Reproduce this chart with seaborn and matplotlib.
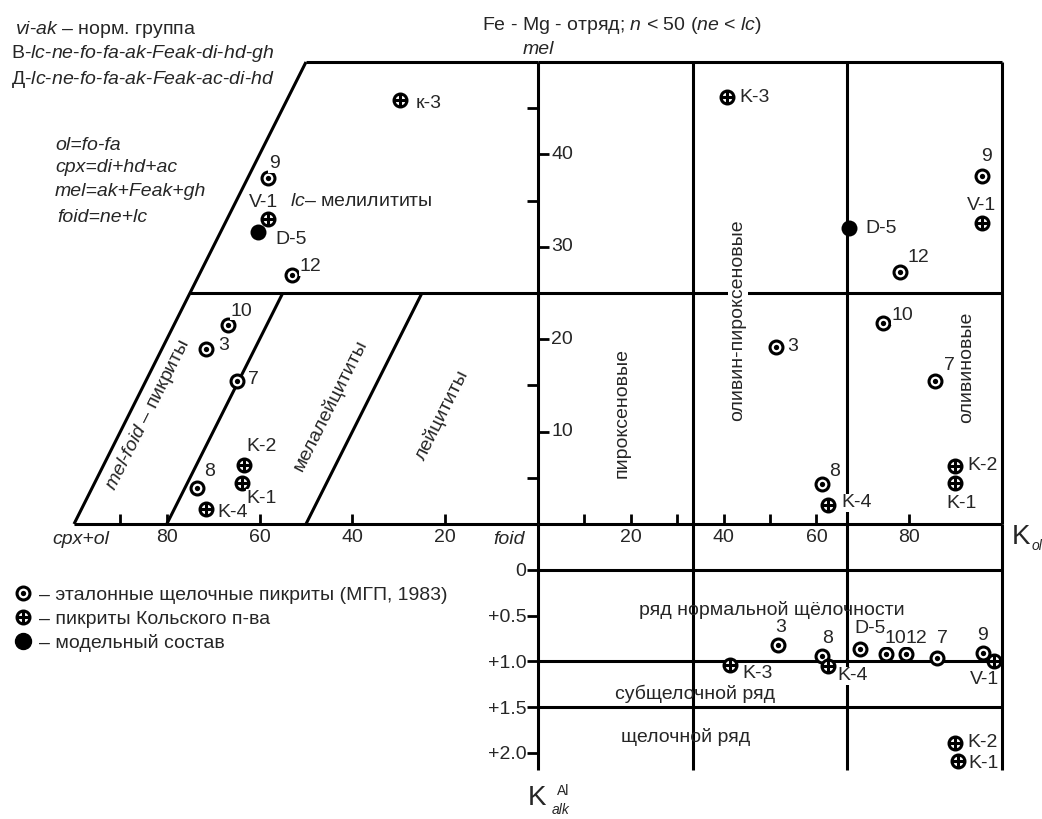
import matplotlib
matplotlib.use("Agg")
import matplotlib.pyplot as plt
import seaborn as sns
import pandas as pd
from matplotlib.lines import Line2D

# ── 1. Data ───────────────────────────────────
# right field: K_ol vs mel
r_names = ['K-3', '9', 'V-1', 'D-5', '12', '10', '3', '7', '8', 'K-4', 'K-2', 'K-1']
r_kind = ['kola', 'ref', 'kola', 'model', 'ref', 'ref', 'ref', 'ref', 'ref',
          'kola', 'kola', 'kola']
r_kol = [40.7, 95.6, 95.6, 67.0, 78.1, 74.3, 51.2, 85.5, 61.1, 62.6, 89.8, 89.8]
r_mel = [46.2, 37.7, 32.6, 32.0, 27.3, 21.8, 19.2, 15.5, 4.3, 2.1, 6.3, 4.4]

# left field: foid scale (sheared) vs mel
l_names = ['к-3', '9', 'V-1', 'D-5', '12', '10', '3', '7', '8', 'K-2', 'K-1', 'K-4']
l_kind = ['kola', 'ref', 'kola', 'model', 'ref', 'ref', 'ref', 'ref', 'ref',
          'kola', 'kola', 'kola']
l_foid = [29.7, 58.1, 58.1, 60.4, 53.1, 66.9, 71.6, 64.9, 73.5, 63.4, 63.9, 71.6]
l_mel = [45.9, 37.4, 33.0, 31.6, 26.9, 21.5, 18.9, 15.5, 3.9, 6.4, 4.4, 1.6]

# lower field: K_ol vs K_alk^Al
b_names = ['3', 'K-3', '8', 'K-4', 'D-5', '10', '12', '7', '9', 'V-1', 'K-2', 'K-1']
b_kind = ['ref', 'kola', 'ref', 'kola', 'ref', 'ref', 'ref', 'ref', 'ref',
          'kola', 'kola', 'kola']
b_kol = [51.7, 41.3, 61.1, 62.6, 69.3, 75.1, 79.4, 85.9, 95.8, 98.2, 89.8, 90.6]
b_kalk = [0.82, 1.04, 0.94, 1.05, 0.86, 0.92, 0.92, 0.96, 0.91, 1.00, 1.89, 2.09]

# field boundaries
kol_frame = [0, 100 / 3, 200 / 3, 100]
mel_frame = [0, 25, 50]
kalk_bounds = [0, 1.0, 1.5]
left_fields = [100, 80, 50]   # foid at mel = 0, lines go 1:1 towards foid

# ticks
kol_major = [20, 40, 60, 80]
kol_minor = [10, 30, 50]
foid_major = [20, 40, 60, 80]
foid_minor = [90]
mel_major = [10, 20, 30, 40]
mel_minor = [5, 15, 35, 45]
kalk_ticks = [0, 0.5, 1.0, 1.5, 2.0]
kalk_labels = ['0', '+0.5', '+1.0', '+1.5', '+2.0']

legend_labels = ['– эталонные щелочные пикриты (МГП, 1983)',
                 '– пикриты Кольского п-ва',
                 '– модельный состав']

# label offsets in px (dx right, dy down, ha)
r_off = [(13, 0, 'left'), (5, -19, 'center'), (0, -17, 'center'), (16, 0, 'left'),
         (7, -14, 'left'), (9, -7, 'left'), (12, 0, 'left'), (9, -15, 'left'),
         (8, -13, 'left'), (13, -2, 'left'), (13, 0, 'left'), (7, 20, 'center')]
l_off = [(15, 4, 'left'), (6, -15, 'center'), (-5, -17, 'center'), (18, 7, 'left'),
         (8, -9, 'left'), (3, -14, 'left'), (12, -4, 'left'), (11, -1, 'left'),
         (7, -16, 'left'), (3, -18, 'left'), (5, 15, 'left'), (12, 3, 'left')]
b_off = [(3, -17, 'center'), (13, 8, 'left'), (6, -17, 'center'), (9, 10, 'left'),
         (11, -20, 'center'), (9, -16, 'center'), (10, -16, 'center'),
         (6, -19, 'center'), (0, -18, 'center'), (-9, 18, 'center'),
         (13, 0, 'left'), (10, 2, 'left')]

df_r = pd.DataFrame({'x': r_kol, 'y': r_mel, 'kind': r_kind, 'name': r_names})
df_l = pd.DataFrame({'x': l_foid, 'y': l_mel, 'kind': l_kind, 'name': l_names})
df_b = pd.DataFrame({'x': b_kol, 'y': b_kalk, 'kind': b_kind, 'name': b_names})

# ── 2. Style ──────────────────────────────────
sns.set_theme(style='ticks')
plt.rcParams['font.family'] = ['Liberation Sans', 'DejaVu Sans']
plt.rcParams['mathtext.fontset'] = 'custom'
plt.rcParams['mathtext.rm'] = 'Liberation Sans'
plt.rcParams['mathtext.it'] = 'Liberation Sans:italic'
plt.rcParams['mathtext.bf'] = 'Liberation Sans:bold'

FS = 14
LW = 2.2
MS = 9.3
MEW = 2.2
DOT = 3.8

W, H = 1042, 819
fig = plt.figure(figsize=(W / 100, H / 100), dpi=100)
fig.patch.set_facecolor('white')


def box(x0, y0, x1, y1):
    return [x0 / W, 1 - y1 / H, (x1 - x0) / W, (y1 - y0) / H]


def ftext(x, y, s, **kw):
    kw.setdefault('fontsize', FS)
    kw.setdefault('va', 'center')
    kw.setdefault('ha', 'left')
    return fig.text(x / W, 1 - y / H, s, **kw)


ax_l = fig.add_axes(box(30, 62, 538, 524))
ax_r = fig.add_axes(box(538, 62, 1002, 524))
ax_b = fig.add_axes(box(538, 524, 1002, 770))
for ax in (ax_l, ax_r, ax_b):
    ax.set_facecolor('none')
    for sp in ax.spines.values():
        sp.set_visible(False)

line_kw = dict(color='black', lw=LW, clip_on=False, zorder=2,
               solid_capstyle='butt')


def draw_points(ax, df, offs):
    ring = df[df.kind != 'model']
    if len(ring):
        sns.scatterplot(data=ring, x='x', y='y', ax=ax, marker='o', s=MS ** 2,
                        facecolor='white', edgecolor='black', linewidth=MEW,
                        zorder=6, clip_on=False, legend=False)
    ref = df[df.kind == 'ref']
    if len(ref):
        sns.scatterplot(data=ref, x='x', y='y', ax=ax, marker='o', s=DOT ** 2,
                        color='black', linewidth=0, zorder=7, clip_on=False,
                        legend=False)
    kola = df[df.kind == 'kola']
    if len(kola):
        sns.scatterplot(data=kola, x='x', y='y', ax=ax, marker='+', s=MS ** 2,
                        color='black', linewidth=MEW, zorder=7, clip_on=False,
                        legend=False)
    model = df[df.kind == 'model']
    if len(model):
        sns.scatterplot(data=model, x='x', y='y', ax=ax, marker='o', s=11.5 ** 2,
                        color='black', linewidth=0, zorder=6, clip_on=False,
                        legend=False)
    for x, y, name, (dx, dy, ha) in zip(df.x, df.y, df.name, offs):
        ax.annotate(name, (x, y), xytext=(dx * 0.72, -dy * 0.72),
                    textcoords='offset points', ha=ha, va='center',
                    fontsize=FS, zorder=8, annotation_clip=False,
                    bbox=dict(facecolor='white', edgecolor='none', pad=0.4))
    ax.set_xlabel('')
    ax.set_ylabel('')


# ── 3. Right field ────────────────────────────
for m in mel_frame:
    ax_r.axhline(m, **line_kw)
for k in kol_frame:
    ax_r.axvline(k, **line_kw)
draw_points(ax_r, df_r, r_off)
ax_r.set_xlim(0, 100)
ax_r.set_ylim(0, 50)
ax_r.set_xticks(kol_major)
ax_r.set_xticklabels([str(v) for v in kol_major])
ax_r.set_xticks(kol_minor, minor=True)
ax_r.tick_params(axis='x', which='both', direction='in', length=7.5, width=2,
                 labelsize=FS, pad=3.5, bottom=True, top=False, color='black')
ax_r.set_yticks(mel_major)
ax_r.set_yticklabels([])
ax_r.set_yticks(mel_minor, minor=True)
ax_r.tick_params(axis='y', which='major', direction='in', length=8, width=2,
                 left=True, right=False, color='black')
ax_r.tick_params(axis='y', which='minor', direction='out', length=8, width=2,
                 left=True, right=False, color='black')
for v in mel_major:
    ax_r.annotate(str(v), (0, v), xytext=(9.5, 0), textcoords='offset points',
                  ha='left', va='center', fontsize=FS)

# ── 4. Left field ─────────────────────────────
ax_l.plot([left_fields[0], 0], [0, 0], **line_kw)
for f in left_fields:
    top = mel_frame[2] if f == left_fields[0] else mel_frame[1]
    ax_l.plot([f, f - top], [0, top], **line_kw)
ax_l.plot([left_fields[0] - mel_frame[2], 0], [mel_frame[2]] * 2, **line_kw)
ax_l.plot([left_fields[0] - mel_frame[1], 0], [mel_frame[1]] * 2, **line_kw)
draw_points(ax_l, df_l, l_off)
ax_l.set_xlim((538 - 30) / 4.64, 0)
ax_l.set_ylim(0, 50)
ax_l.set_xticks(foid_major)
ax_l.set_xticklabels([str(v) for v in foid_major])
ax_l.set_xticks(foid_minor, minor=True)
ax_l.tick_params(axis='x', which='both', direction='in', length=7.5, width=2,
                 labelsize=FS, pad=3.5, bottom=True, top=False, color='black')
ax_l.tick_params(axis='y', which='both', left=False, labelleft=False)

# ── 5. Lower field ────────────────────────────
for k in kalk_bounds:
    ax_b.axhline(k, **line_kw)
for k in kol_frame:
    ax_b.axvline(k, **line_kw)
draw_points(ax_b, df_b, b_off)
ax_b.set_xlim(0, 100)
ax_b.set_ylim(2.188, -0.503)
ax_b.set_yticks(kalk_ticks)
ax_b.set_yticklabels(kalk_labels)
ax_b.tick_params(axis='y', direction='out', length=8, width=2, labelsize=FS,
                 pad=0.5, left=True, color='black')
ax_b.tick_params(axis='x', bottom=False, labelbottom=False)

# ── 6. Texts ──────────────────────────────────
ftext(15, 29, r'$vi$-$ak$ – норм. группа')
ftext(11, 54, r'В-$lc$-$ne$-$fo$-$fa$-$ak$-$Feak$-$di$-$hd$-$gh$')
ftext(11, 80, r'Д-$lc$-$ne$-$fo$-$fa$-$ak$-$Feak$-$ac$-$di$-$hd$')
ftext(55, 146, 'ol=fo-fa', style='italic')
ftext(55, 168, 'cpx=di+hd+ac', style='italic')
ftext(55, 192, 'mel=ak+Feak+gh', style='italic')
ftext(57, 217, 'foid=ne+lc', style='italic')
ftext(622, 25, r'Fe - Mg - отряд; $n$ < 50 ($ne$ < $lc$)', ha='center')
ftext(523, 50, 'mel', style='italic')
ftext(290, 202, r'$lc$– мелилититы')

ftext(148, 415, r'$mel$-$foid$ – пикриты', ha='center', rotation=63.3,
      rotation_mode='anchor')
ftext(330, 405, 'мелалейцититы', ha='center', rotation=63.3,
      rotation_mode='anchor')
ftext(442, 415, 'лейцититы', ha='center', rotation=63.3, rotation_mode='anchor')

ftext(622, 413, 'пироксеновые', ha='center', rotation=90)
ftext(738, 320, 'оливин-пироксеновые', ha='center', rotation=90,
      bbox=dict(facecolor='white', edgecolor='none', pad=1))
ftext(967, 367, 'оливиновые', ha='center', rotation=90)

ftext(81, 540, 'cpx+ol', style='italic', ha='center')
ftext(493, 540, 'foid', style='italic')

ftext(1012, 537, 'K', fontsize=20)
ftext(1032, 546, 'ol', fontsize=10, style='italic')
ftext(528, 798, 'K', fontsize=20)
ftext(552, 810, 'alk', fontsize=10, style='italic')
ftext(557, 791, 'Al', fontsize=10)

ftext(772, 610, 'ряд нормальной щёлочности', ha='center')
ftext(695, 694, 'субщелочной ряд', ha='center')
ftext(686, 737, 'щелочной ряд', ha='center')

# ── 7. Legend ─────────────────────────────────
ring_h = Line2D([], [], ls='', marker='o', ms=MS, mfc='white', mec='black', mew=MEW)
dot_h = Line2D([], [], ls='', marker='o', ms=DOT, mfc='black', mec='black', mew=0)
plus_h = Line2D([], [], ls='', marker='+', ms=MS, mec='black', mew=MEW)
fill_h = Line2D([], [], ls='', marker='o', ms=11.5, mfc='black', mec='black')
fig.legend([(ring_h, dot_h), (ring_h, plus_h), fill_h], legend_labels,
           loc='upper left', bbox_to_anchor=(13 / W, 1 - 586 / H),
           frameon=False, fontsize=FS, handlelength=1.0, handletextpad=0.35,
           labelspacing=0.33, borderpad=0, borderaxespad=0)

fig.savefig('out.png', dpi=100, facecolor='white')
